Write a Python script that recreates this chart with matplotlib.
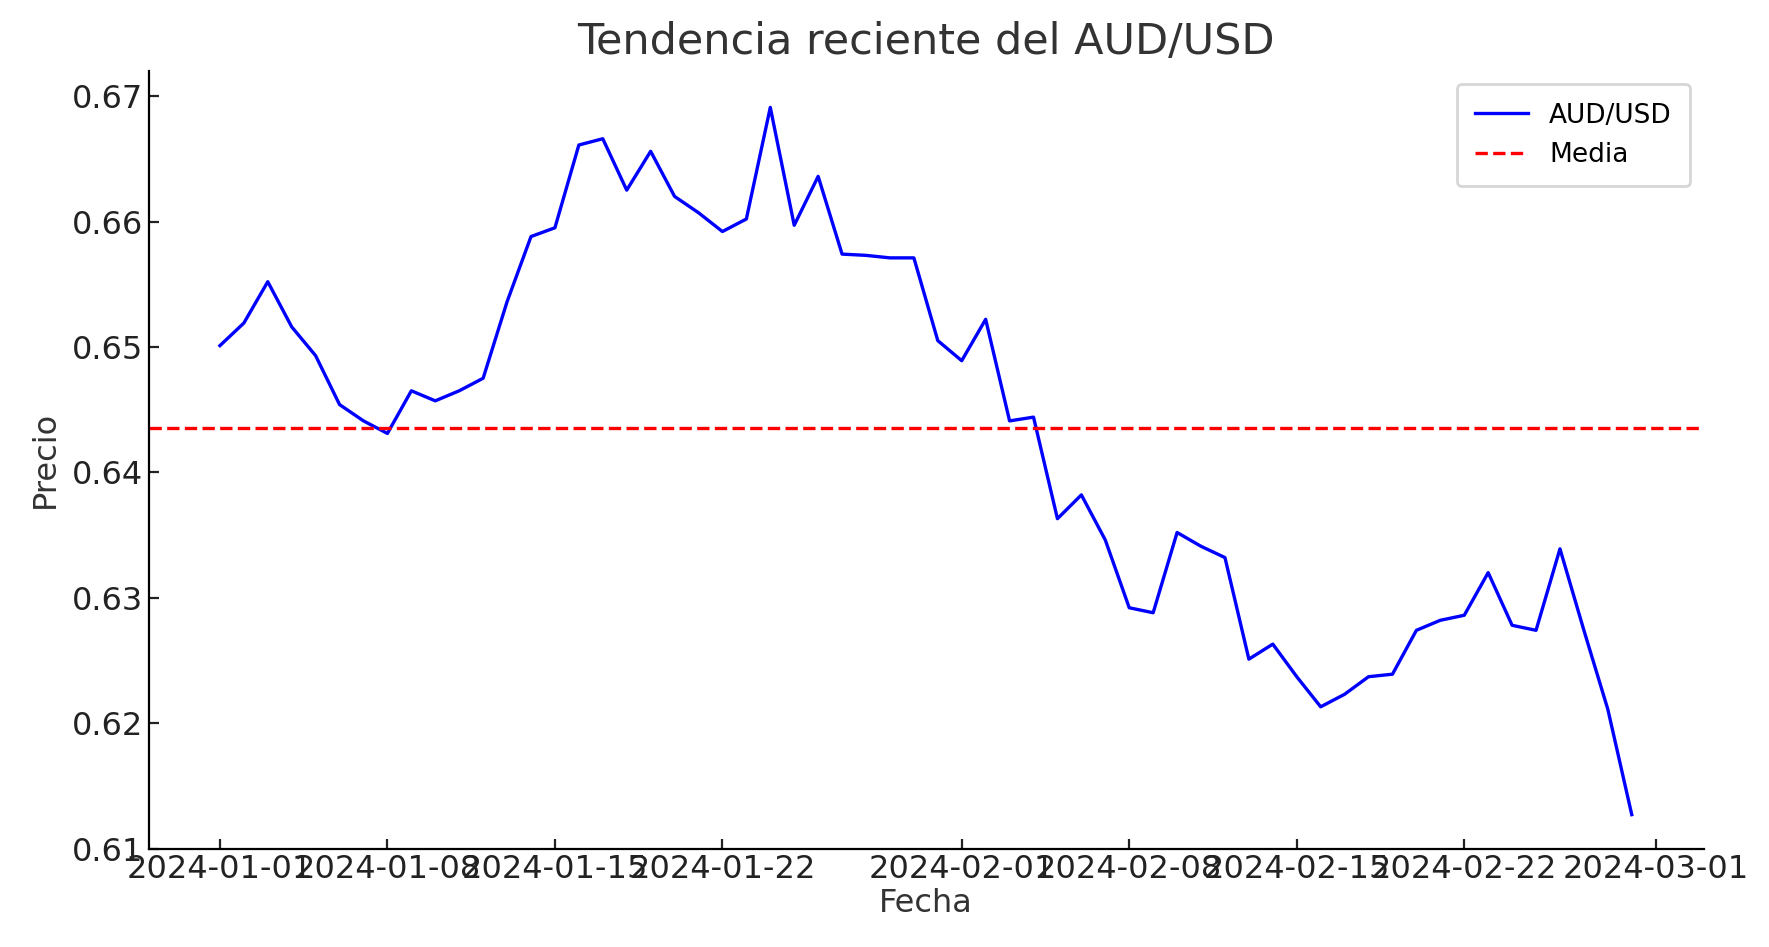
import matplotlib
matplotlib.use("Agg")
import matplotlib.pyplot as plt
import matplotlib.dates as mdates
import numpy as np
import pandas as pd

dates = pd.date_range("2024-01-01", periods=60, freq="D")
prices = [0.6501,0.6519,0.6552,0.6516,0.6493,0.6454,0.6441,0.6431,0.6465,0.6457,
          0.6465,0.6475,0.6536,0.6588,0.6595,0.6661,0.6666,0.6625,0.6656,0.6620,
          0.6607,0.6592,0.6602,0.6691,0.6597,0.6636,0.6574,0.6573,0.6571,0.6571,
          0.6505,0.6489,0.6522,0.6441,0.6444,0.6363,0.6382,0.6346,0.6292,0.6288,
          0.6352,0.6341,0.6332,0.6251,0.6263,0.6237,0.6213,0.6223,0.6237,0.6239,
          0.6274,0.6282,0.6286,0.6320,0.6278,0.6274,0.6339,0.6274,0.6211,0.6127]
mean_val = 0.6435

fig, ax = plt.subplots(figsize=(8.845, 4.735), dpi=200)
fig.subplots_adjust(left=0.084, right=0.963, top=0.925, bottom=0.104)
ax.plot(dates, prices, color="blue", lw=1.2, label="AUD/USD")
ax.axhline(mean_val, color="red", ls="--", lw=1.2, label="Media")
ax.set_xlim(pd.Timestamp("2024-01-01") - pd.Timedelta(days=2.98), pd.Timestamp("2024-01-01") + pd.Timedelta(days=62))
ax.set_ylim(0.61, 0.672)
ticks = [pd.Timestamp(d) for d in ["2024-01-01","2024-01-08","2024-01-15","2024-01-22","2024-02-01","2024-02-08","2024-02-15","2024-02-22","2024-03-01"]]
ax.set_xticks(ticks)
ax.xaxis.set_major_formatter(mdates.DateFormatter("%Y-%m-%d"))
ax.set_yticks([0.61,0.62,0.63,0.64,0.65,0.66,0.67])
ax.tick_params(direction="in", labelsize=11.5, colors="#222222", pad=2)
for s in ["top", "right"]:
    ax.spines[s].set_visible(False)
ax.set_title("Tendencia reciente del AUD/USD", fontsize=15.5, color="#333333")
ax.set_xlabel("Fecha", fontsize=11.5, color="#333333", labelpad=1)
ax.set_ylabel("Precio", fontsize=11.5, color="#333333")
ax.legend(loc="upper right", fontsize=9.5, borderpad=0.7)
fig.savefig("out.png")
